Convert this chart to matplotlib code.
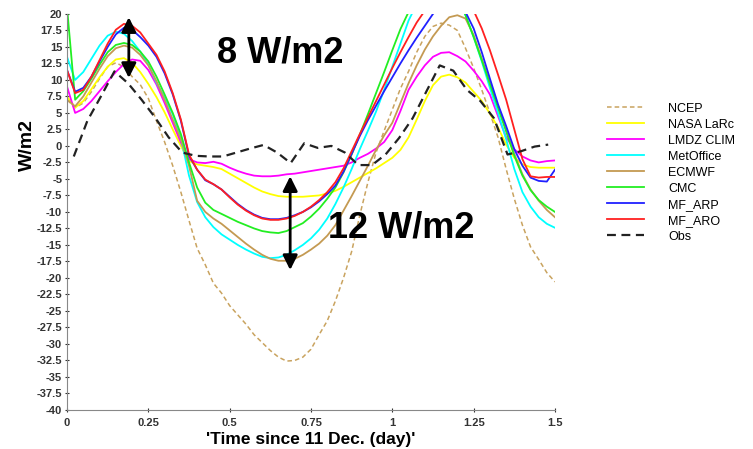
import numpy as np
import matplotlib
matplotlib.use('Agg')
import matplotlib.pyplot as plt

plt.rcParams['font.family'] = ['Liberation Sans', 'DejaVu Sans']

# model time grid (days), every 0.025 day
t = np.round(np.arange(61) * 0.025, 3)

ncep = [7.0, 5.8, 6.5, 8.2, 10.2, 12.0, 12.6, 12.0, 10.5, 9.3,
        7.2, 3.8, 0.6, -3.0, -7.0, -11.3, -15.5, -18.0, -20.8, -22.3,
        -24.2, -25.6, -27.0, -28.6, -29.8, -31.0, -32.0, -32.6, -32.5, -32.0,
        -30.8, -28.6, -26.5, -23.5, -20.0, -16.0, -10.5, -5.5, -1.0, 2.3,
        5.5, 8.7, 11.3, 14.2, 16.6, 18.1, 18.6, 18.3, 17.5, 14.8,
        11.8, 8.5, 5.0, 1.3, -3.5, -8.0, -12.0, -15.3, -17.2, -19.2, -20.6]

nasa = [7.5, 5.8, 6.8, 8.6, 10.4, 12.0, 13.1, 13.3, 12.6, 11.2,
        9.4, 7.4, 5.1, 2.5, 0.0, -2.3, -2.8, -3.0, -3.2, -3.5,
        -4.2, -4.9, -5.6, -6.3, -6.9, -7.3, -7.6, -7.7, -7.7, -7.7,
        -7.6, -7.5, -7.2, -6.8, -6.2, -5.5, -4.8, -4.1, -3.4, -2.6,
        -1.8, -0.6, 1.3, 4.0, 6.8, 9.2, 10.5, 10.8, 10.4, 9.6,
        8.2, 6.8, 4.9, 2.8, 0.2, -1.8, -2.8, -3.2, -3.3, -3.3, -3.3]

lmdz = [9.0, 5.0, 5.6, 6.8, 8.3, 9.8, 11.2, 12.4, 13.1, 12.9,
        11.5, 9.3, 6.5, 3.5, 0.5, -2.0, -2.5, -2.6, -2.4, -2.7,
        -3.3, -3.8, -4.2, -4.5, -4.6, -4.6, -4.5, -4.3, -4.2, -4.0,
        -3.8, -3.6, -3.4, -3.2, -3.0, -2.5, -1.8, -1.2, -0.4, 0.6,
        2.4, 5.3, 8.5, 10.5, 12.2, 13.5, 14.1, 14.2, 13.6, 12.8,
        11.4, 9.8, 7.8, 4.5, 1.3, -0.5, -1.6, -2.2, -2.5, -2.3, -2.2]

metoffice = [13.5, 10.0, 11.2, 13.2, 15.2, 16.7, 17.3, 17.0, 15.9, 14.3,
             12.3, 9.6, 7.3, 4.8, 1.2, -4.5, -8.5, -10.8, -12.3, -13.4,
             -14.2, -15.0, -15.7, -16.3, -16.8, -17.0, -16.9, -16.5, -15.8, -15.0,
             -14.0, -12.7, -11.0, -8.8, -6.3, -3.5, -0.5, 2.3, 5.2, 8.5,
             12.0, 15.5, 19.0, 21.5, 23.2, 24.2, 24.4, 23.8, 22.3, 19.8,
             16.5, 12.8, 8.8, 5.0, 1.0, -3.5, -7.0, -9.2, -10.8, -11.8, -12.4]

ecmwf = [7.0, 6.0, 7.5, 9.6, 11.7, 13.6, 14.8, 15.2, 14.9, 13.8,
         12.2, 9.8, 7.0, 4.0, 1.0, -3.0, -8.3, -10.0, -11.0, -11.8,
         -12.8, -13.8, -14.8, -15.7, -16.5, -17.1, -17.4, -17.4, -17.1, -16.5,
         -15.7, -14.8, -13.6, -12.0, -9.8, -7.6, -5.3, -3.0, -0.6, 1.6,
         3.5, 6.5, 9.5, 12.2, 14.6, 16.6, 18.2, 19.5, 19.8, 19.3,
         16.8, 13.2, 9.6, 6.0, 2.4, -1.2, -4.3, -6.6, -8.3, -9.7, -10.8]

cmc = [21.0, 7.0, 8.3, 10.2, 12.3, 14.2, 15.3, 15.6, 15.3, 14.3,
       12.8, 10.5, 7.8, 5.0, 1.8, -2.5, -6.3, -8.6, -9.7, -10.3,
       -10.9, -11.5, -12.0, -12.5, -12.9, -13.1, -13.2, -12.9, -12.3, -11.7,
       -10.7, -9.5, -8.0, -6.3, -4.0, -1.3, 1.7, 4.8, 8.0, 11.2,
       14.5, 17.7, 20.3, 22.6, 24.2, 25.0, 25.0, 24.2, 22.5, 19.8,
       16.5, 13.0, 9.4, 5.8, 2.2, -1.5, -4.5, -6.7, -8.2, -9.2, -10.0]

mf_arp = [11.5, 8.2, 8.8, 10.5, 12.8, 15.0, 16.9, 17.9, 17.6, 16.5,
          15.2, 13.5, 11.0, 7.8, 3.8, -1.5, -3.6, -5.2, -5.8, -6.6,
          -7.7, -8.8, -9.7, -10.4, -10.9, -11.1, -11.1, -10.9, -10.5, -10.0,
          -9.3, -8.4, -7.3, -6.0, -3.9, -1.2, 1.5, 3.9, 6.1, 8.3,
          10.4, 12.5, 14.5, 16.4, 18.2, 20.0, 21.3, 21.9, 21.6, 20.3,
          17.8, 14.2, 10.2, 6.3, 3.0, -0.5, -3.0, -4.8, -5.3, -5.4, -3.6]

mf_aro = [11.5, 8.0, 8.5, 10.5, 13.0, 15.5, 17.6, 18.5, 18.2, 17.2,
          15.5, 13.8, 11.3, 8.0, 4.0, -1.3, -3.6, -5.1, -5.8, -6.6,
          -7.8, -8.9, -9.8, -10.5, -11.0, -11.2, -11.2, -11.0, -10.6, -10.0,
          -9.2, -8.2, -7.0, -5.5, -3.4, -0.8, 1.8, 4.3, 6.8, 9.3,
          11.8, 14.2, 16.5, 18.7, 20.5, 21.8, 22.7, 23.2, 23.0, 22.0,
          20.5, 17.8, 14.5, 10.8, 7.0, 2.5, -2.0, -4.6, -4.8, -4.7, -4.7]

# observations, hourly (centred on the half hour)
t_obs = np.round((np.arange(36) + 0.5) / 24, 4)
obs = [-1.6, 3.8, 7.5, 11.3, 9.5, 7.0, 4.3, 1.3, -1.0, -1.5,
       -1.6, -1.6, -1.0, -0.4, 0.15, -1.0, -2.6, 0.4, -0.3, 0.0,
       -1.0, -2.9, -2.9, -1.3, 1.2, 4.2, 8.2, 12.2, 11.4, 8.5,
       6.8, 4.2, -1.3, -0.8, -0.1, 0.2]

series = [
    ('NCEP', ncep, '#c9a35f', '--', 1.1),
    ('NASA LaRc', nasa, '#ffff00', '-', 1.3),
    ('LMDZ CLIM', lmdz, '#ff00ff', '-', 1.3),
    ('MetOffice', metoffice, '#00ffff', '-', 1.3),
    ('ECMWF', ecmwf, '#c49a52', '-', 1.3),
    ('CMC', cmc, '#22ee22', '-', 1.3),
    ('MF_ARP', mf_arp, '#2020ff', '-', 1.3),
    ('MF_ARO', mf_aro, '#ff2020', '-', 1.3),
]

# annotation arrows (x, y_top, y_bottom) and labels
arrow1 = (0.19, 19.5, 10.3)
arrow2 = (0.686, -4.6, -18.8)
label1 = (0.655, 12.6, '8 W/m2')
label2 = (1.027, -13.9, '12 W/m2')

fig = plt.figure(figsize=(7.53, 4.49), dpi=100)
ax = fig.add_axes([0.089, 0.087, 0.648, 0.882])

for name, vals, col, ls, lw in series:
    if ls == '--':
        ax.plot(t, vals, color=col, ls=ls, lw=lw, dashes=(3, 2), label=name)
    else:
        ax.plot(t, vals, color=col, ls=ls, lw=lw, label=name)
ax.plot(t_obs, obs, color='#222222', lw=1.6, dashes=(4, 2.5), label='Obs')

ax.set_xlim(0, 1.5)
ax.set_ylim(-40, 20)
ax.set_xticks([0, 0.25, 0.5, 0.75, 1, 1.25, 1.5])
ax.set_xticklabels(['0', '0.25', '0.5', '0.75', '1', '1.25', '1.5'])
yt = np.arange(-40, 20.1, 2.5)
ax.set_yticks(yt)
ax.set_yticklabels([('%g' % v) for v in yt])
for lab in ax.get_xticklabels() + ax.get_yticklabels():
    lab.set_fontweight('bold')
ax.tick_params(labelsize=8, colors='#333333', length=3, width=0.8, direction='inout', pad=2)
ax.tick_params(axis='x', pad=4)
for s in ['top', 'right']:
    ax.spines[s].set_visible(False)
for s in ['left', 'bottom']:
    ax.spines[s].set_color('#888888')

ax.set_ylabel('W/m2', fontsize=14, fontweight='bold')
ax.yaxis.set_label_coords(-0.064, 0.67)
ax.set_xlabel("'Time since 11 Dec. (day)'", fontsize=12.5, fontweight='bold', labelpad=3)

for x, y0, y1 in [arrow1, arrow2]:
    ax.annotate('', xy=(x, y0), xytext=(x, y1),
                arrowprops=dict(arrowstyle='<|-|>', color='black', lw=2, mutation_scale=22,
                                shrinkA=0, shrinkB=0))
for x, y, txt in [label1, label2]:
    ax.text(x, y, txt, fontsize=26, fontweight='bold', ha='center', va='baseline')

ax.legend(loc='upper left', bbox_to_anchor=(0.806, 0.771), bbox_transform=fig.transFigure,
          frameon=False, fontsize=9, handlelength=3.0, handletextpad=1.9,
          labelspacing=0.32, borderpad=0, borderaxespad=0)

fig.savefig('out.png', dpi=100)
